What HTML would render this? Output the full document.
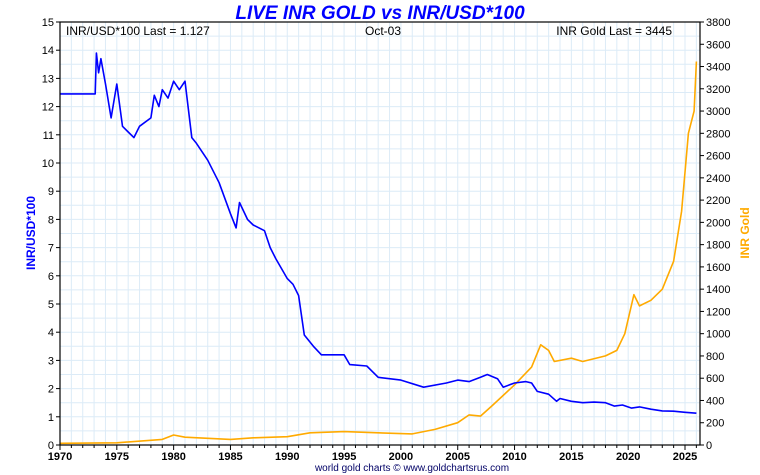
<!DOCTYPE html>
<html><head><meta charset="utf-8"><style>
body{margin:0;background:#fff;}
svg{display:block;font-family:"Liberation Sans",sans-serif;}
</style></head><body>
<svg id="c" width="760" height="475"></svg>
<script>
const inrYears=[1970,1973.1,1973.2,1973.4,1973.6,1974,1974.5,1975,1975.5,1976,1976.5,1977,1978,1978.3,1978.7,1979,1979.5,1980,1980.5,1981,1981.3,1981.6,1982,1983,1984,1985,1985.5,1985.8,1986.5,1987,1988,1988.5,1989,1990,1990.5,1991,1991.5,1992.3,1993,1995,1995.5,1997,1998,2000,2002,2004,2005,2006,2007,2007.6,2008.5,2009,2010,2011,2011.5,2012,2013,2013.7,2014,2015,2016,2017,2018,2018.8,2019.5,2020.3,2021,2022,2023,2024,2025,2026];
const inrValues=[12.45,12.45,13.9,13.2,13.7,12.8,11.6,12.8,11.3,11.1,10.9,11.3,11.6,12.4,12.0,12.6,12.3,12.9,12.6,12.9,11.9,10.9,10.7,10.1,9.3,8.2,7.7,8.6,8.0,7.8,7.6,7.0,6.6,5.9,5.7,5.3,3.9,3.5,3.2,3.2,2.85,2.8,2.4,2.3,2.05,2.2,2.3,2.25,2.4,2.5,2.35,2.05,2.2,2.25,2.2,1.9,1.8,1.55,1.65,1.55,1.5,1.52,1.5,1.38,1.42,1.31,1.35,1.27,1.21,1.2,1.16,1.127];
const goldYears=[1970,1975,1979,1980,1981,1985,1987,1990,1992,1995,1998,2001,2003,2005,2006,2007,2008,2010,2011.5,2012.3,2013,2013.5,2015,2016,2018,2019,2019.7,2020.5,2021,2022,2023,2024,2024.7,2025.3,2025.8,2026];
const goldValues=[15,20,50,90,70,50,65,75,110,120,110,100,140,200,270,260,350,540,700,900,850,750,780,750,800,850,1000,1350,1250,1300,1400,1650,2100,2800,3000,3445];
const xTicks=[1970,1975,1980,1985,1990,1995,2000,2005,2010,2015,2020,2025];
const leftTicks=[0,1,2,3,4,5,6,7,8,9,10,11,12,13,14,15];
const rightTicks=[0,200,400,600,800,1000,1200,1400,1600,1800,2000,2200,2400,2600,2800,3000,3200,3400,3600,3800];

const L=60,R=700,T=22,B=445;
const x=y=>L+(y-1970)*(625/55);
const yl=v=>B-v*(B-T)/15;
const yr=v=>B-v*(B-T)/3800;
const svg=document.getElementById('c');
const NS='http://www.w3.org/2000/svg';
function el(t,a,p){const e=document.createElementNS(NS,t);for(const k in a)e.setAttribute(k,a[k]);(p||svg).appendChild(e);return e;}

const grid=el('g',{});


for(let yy=1971;yy<=2026;yy++){el('line',{x1:x(yy),x2:x(yy),y1:T,y2:B,stroke:'#dcebf7','stroke-width':1},grid);}
for(let v=0.5;v<15;v+=0.5){el('line',{x1:L,x2:R,y1:yl(v),y2:yl(v),stroke:'#dcebf7','stroke-width':1},grid);}

function txt(s,a,name){const t=el('text',a);t.textContent=s;return t;}

// axes ticks
leftTicks.forEach(v=>{el('line',{x1:L-4,x2:L,y1:yl(v),y2:yl(v),stroke:'#000'});txt(v,{x:L-6,y:yl(v)+4,'text-anchor':'end','font-size':11},'y-left-tick');});
rightTicks.forEach(v=>{el('line',{x1:R,x2:R+4,y1:yr(v),y2:yr(v),stroke:'#000'});txt(v,{x:R+6,y:yr(v)+4,'font-size':11},'y-right-tick');});
for(let yy=1970;yy<=2026;yy++){el('line',{x1:x(yy),x2:x(yy),y1:B,y2:B+(yy%5?3:5),stroke:'#000'});}
xTicks.forEach(v=>txt(v,{x:x(v),y:B+15,'text-anchor':'middle','font-size':11,'font-weight':'bold'},'x-tick'));

function path(xs,vs,f,col,name){let d='';xs.forEach((a,i)=>{d+=(i?'L':'M')+x(a).toFixed(1)+','+f(vs[i]).toFixed(1);});const p=el('path',{d:d,fill:'none',stroke:col,'stroke-width':1.6,'stroke-linejoin':'round'});}
path(goldYears,goldValues,yr,'#ffaa00','inr-gold-line');
path(inrYears,inrValues,yl,'#0000ff','inr-usd-line');

el('rect',{x:L,y:T,width:R-L,height:B-T,fill:'none',stroke:'#000','stroke-width':1.2});

txt('LIVE INR GOLD vs INR/USD*100',{x:380,y:19,'text-anchor':'middle','font-size':19,'font-weight':'bold','font-style':'italic',fill:'#0000ff'},'chart-title');
txt('INR/USD*100 Last = 1.127',{x:66,y:35,'font-size':12},'left-last-label');
txt('Oct-03',{x:383,y:35,'text-anchor':'middle','font-size':12},'date-label');
txt('INR Gold Last = 3445',{x:672,y:35,'text-anchor':'end','font-size':12},'right-last-label');
txt('INR/USD*100',{x:35,y:233,'text-anchor':'middle','font-size':12,'font-weight':'bold',fill:'#0000ff',transform:'rotate(-90 35 233)'},'y-left-title');
txt('INR Gold',{x:749,y:233,'text-anchor':'middle','font-size':12,'font-weight':'bold',fill:'#ffaa00',transform:'rotate(-90 749 233)'},'y-right-title');
txt('world gold charts © www.goldchartsrus.com',{x:412,y:471,'text-anchor':'middle','font-size':10,fill:'#000066'},'footer-credit');
</script>
</body></html>
